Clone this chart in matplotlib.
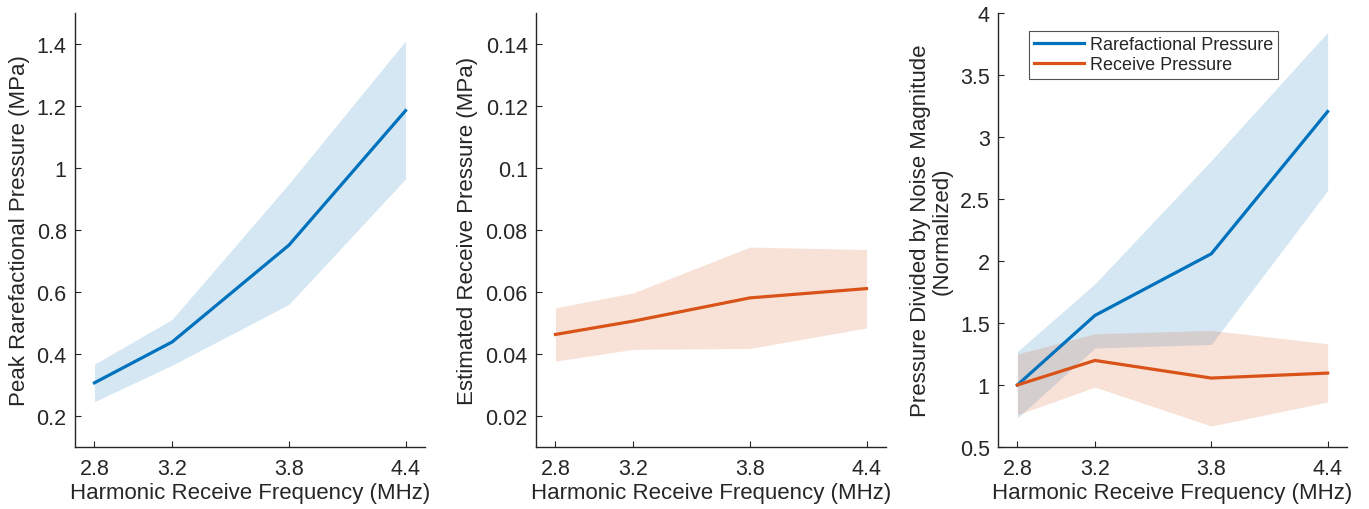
import matplotlib.pyplot as plt

plt.rcParams['font.family'] = ['Liberation Sans', 'DejaVu Sans']

# ==============================
# Datos
# ==============================

frecuencias = [2.8, 3.2, 3.8, 4.4]
etiquetas_x = ["2.8", "3.2", "3.8", "4.4"]

# Panel 1: presion rarefaccional pico (MPa)
rare_media = [0.307, 0.439, 0.751, 1.185]
rare_alta = [0.367, 0.512, 0.949, 1.41]
rare_baja = [0.246, 0.364, 0.560, 0.965]

# Panel 2: presion de recepcion estimada (MPa)
recv_media = [0.0463, 0.0506, 0.0581, 0.0611]
recv_alta = [0.0549, 0.0597, 0.0745, 0.0737]
recv_baja = [0.0377, 0.0415, 0.0418, 0.0484]

# Panel 3: presion dividida por ruido (normalizada)
norm_rare_media = [1.0, 1.561, 2.058, 3.205]
norm_rare_alta = [1.27, 1.816, 2.81, 3.844]
norm_rare_baja = [0.734, 1.298, 1.327, 2.568]
norm_recv_media = [1.0, 1.198, 1.056, 1.096]
norm_recv_alta = [1.25, 1.413, 1.44, 1.333]
norm_recv_baja = [0.76, 0.983, 0.669, 0.863]

azul = (0, 0.447, 0.741)
naranja = (0.85, 0.325, 0.098)
gris = "#262626"
alfa = 0.17
tam_ticks = 15.5
tam_label = 16

fig = plt.figure(figsize=(13.69, 5.1), dpi=100)
ax1 = fig.add_axes([75 / 1369, 62 / 510, 350 / 1369, 434 / 510])
ax2 = fig.add_axes([536 / 1369, 62 / 510, 350 / 1369, 434 / 510])
ax3 = fig.add_axes([998 / 1369, 62 / 510, 349 / 1369, 434 / 510])


def estilo(ax):
    for lado in ["top", "right"]:
        ax.spines[lado].set_visible(False)
    for lado in ["left", "bottom"]:
        ax.spines[lado].set_color(gris)
        ax.spines[lado].set_linewidth(1.0)
    ax.tick_params(direction="in", length=4, width=0.8, colors=gris,
                   labelsize=tam_ticks, labelcolor=gris, pad=6)
    ax.tick_params(axis="x", pad=8)
    ax.set_xlim(2.7, 4.5)
    ax.set_xticks(frecuencias)
    ax.set_xticklabels(etiquetas_x)
    ax.set_xlabel("Harmonic Receive Frequency (MHz)", fontsize=tam_label, color=gris, labelpad=2)


# Panel 1
ax1.fill_between(frecuencias, rare_baja, rare_alta, color=azul, alpha=alfa, linewidth=0)
ax1.plot(frecuencias, rare_media, color=azul, linewidth=2.3)
estilo(ax1)
ax1.set_ylim(0.1, 1.5)
ax1.set_yticks([0.2, 0.4, 0.6, 0.8, 1.0, 1.2, 1.4])
ax1.set_yticklabels(["0.2", "0.4", "0.6", "0.8", "1", "1.2", "1.4"])
ax1.set_ylabel("Peak Rarefactional Pressure (MPa)", fontsize=tam_label, color=gris, labelpad=5)

# Panel 2
ax2.fill_between(frecuencias, recv_baja, recv_alta, color=naranja, alpha=alfa, linewidth=0)
ax2.plot(frecuencias, recv_media, color=naranja, linewidth=2.3)
estilo(ax2)
ax2.set_ylim(0.01, 0.15)
ax2.set_yticks([0.02, 0.04, 0.06, 0.08, 0.10, 0.12, 0.14])
ax2.set_yticklabels(["0.02", "0.04", "0.06", "0.08", "0.1", "0.12", "0.14"])
ax2.set_ylabel("Estimated Receive Pressure (MPa)", fontsize=tam_label, color=gris, labelpad=5)

# Panel 3
ax3.fill_between(frecuencias, norm_rare_baja, norm_rare_alta, color=azul, alpha=alfa, linewidth=0)
ax3.fill_between(frecuencias, norm_recv_baja, norm_recv_alta, color=naranja, alpha=alfa, linewidth=0)
ax3.plot(frecuencias, norm_rare_media, color=azul, linewidth=2.3, label="Rarefactional Pressure")
ax3.plot(frecuencias, norm_recv_media, color=naranja, linewidth=2.3, label="Receive Pressure")
estilo(ax3)
ax3.set_ylim(0.5, 4)
ax3.set_yticks([0.5, 1, 1.5, 2, 2.5, 3, 3.5, 4])
ax3.set_yticklabels(["0.5", "1", "1.5", "2", "2.5", "3", "3.5", "4"])
ax3.set_ylabel("Pressure Divided by Noise Magnitude\n(Normalized)", fontsize=tam_label,
               color=gris, labelpad=5, linespacing=1.05)
leg = ax3.legend(loc="upper left", bbox_to_anchor=(0.089, 0.959), fontsize=13,
                 frameon=True, fancybox=False, borderpad=0.28, handlelength=2.75,
                 handletextpad=0.33, labelspacing=0.2, borderaxespad=0)
leg.get_frame().set_edgecolor(gris)
leg.get_frame().set_linewidth(0.8)
for t in leg.get_texts():
    t.set_color(gris)

fig.savefig("out.png", dpi=100)
